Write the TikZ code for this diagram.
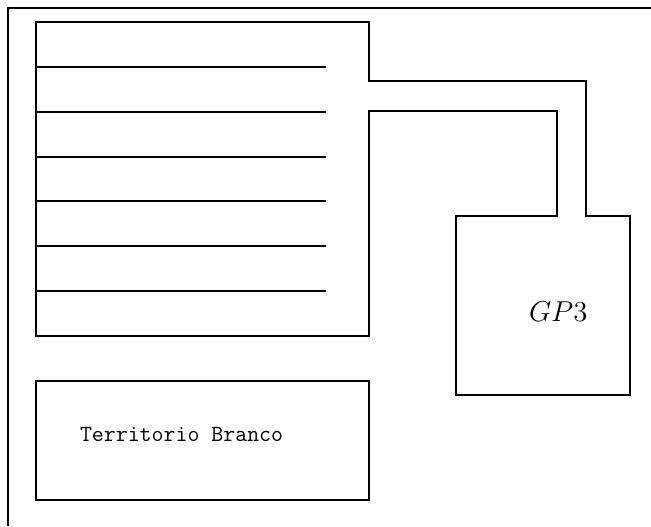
\documentclass[tikz,border=0pt]{standalone}
\tikzset{
  wall/.style={draw=black, line width=1pt, line join=miter},
  shelf/.style={draw=black, line width=1pt},
  frameline/.style={draw=black, line width=1pt},
  planlabel/.style={inner sep=0pt, outer sep=0pt},
}
\begin{document}
\begin{tikzpicture}[x=0.5pt, y=-0.5pt]
  \useasboundingbox (0,0) rectangle (651,526);

  % outer frame (only top and left edges fall inside the sheet)
  \draw[frameline] (7.5,526) -- (7.5,7.5) -- (651,7.5);

  % building outline with the corridor leading to GP3
  \coordinate (bNW) at (36,22);
  \coordinate (bNE) at (369,22);
  \coordinate (cTop) at (369,81);
  \coordinate (cOut) at (586,81);
  \coordinate (gNE0) at (586,216);
  \coordinate (gNE) at (630,216);
  \coordinate (gSE) at (630,395);
  \coordinate (gSW) at (455.5,395);
  \coordinate (gNW) at (455.5,216);
  \coordinate (cInB) at (557,216);
  \coordinate (cIn) at (557,111);
  \coordinate (cBot) at (369,111);
  \coordinate (bSE) at (369,336);
  \coordinate (bSW) at (36,336);
  \draw[wall] (bNW) -- (bNE) -- (cTop) -- (cOut) -- (gNE0) -- (gNE) -- (gSE)
    -- (gSW) -- (gNW) -- (cInB) -- (cIn) -- (cBot) -- (bSE) -- (bSW) -- cycle;

  % internal partitions
  \foreach \i/\yy in {1/66.7, 2/111.6, 3/156.5, 4/201.4, 5/246.3, 6/291.2} {
    \coordinate (s\i a) at (36,\yy);
    \coordinate (s\i b) at (326,\yy);
    \draw[shelf] (s\i a) -- (s\i b);
  }

  % GP3 label
  \node[planlabel, anchor=base west] (gp) at (529,321.5)
    {\fontsize{15}{18}\selectfont $GP3$};

  % Territorio Branco block
  \coordinate (tNW) at (36,381);
  \coordinate (tSE) at (369,500);
  \draw[wall] (tNW) rectangle (tSE);
  \node[planlabel, anchor=base west] (tb) at (80,441.5)
    {\ttfamily\fontsize{11.6}{13}\selectfont Territorio Branco};
\end{tikzpicture}
\end{document}
